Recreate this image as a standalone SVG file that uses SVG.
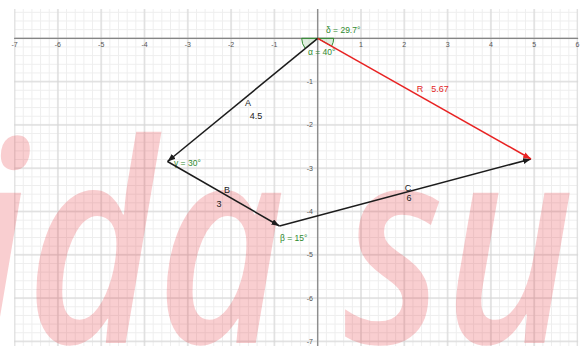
<svg xmlns="http://www.w3.org/2000/svg" width="587" height="346" viewBox="0 0 587 346">
<style>
.axl{font-family:"Liberation Sans",Arial,sans-serif;font-size:7px;fill:#555}
.lbl{font-family:"Liberation Sans",Arial,sans-serif;font-size:9px;fill:#222}
.red{fill:#e32626}
.ang{font-family:"Liberation Sans",Arial,sans-serif;font-size:8.5px;fill:#2f8a2f}
.vec{stroke:#1c1c1c;stroke-width:1.5;fill:none}
.vecr{stroke:#e82222;stroke-width:1.5;fill:none}
.sector{fill:#2e8b2e;fill-opacity:0.15;stroke:#2e8b2e;stroke-width:1}
</style>
<defs>
<pattern id="minor" x="10.27" y="33.97" width="8.66" height="8.66" patternUnits="userSpaceOnUse">
<path d="M4.33,0 V8.66 M0,4.33 H8.66" stroke="#eeeeee" stroke-width="1" fill="none"/>
</pattern>
<pattern id="major" x="-7.05" y="16.65" width="43.3" height="43.3" patternUnits="userSpaceOnUse">
<path d="M21.65,0 V43.3 M0,21.65 H43.3" stroke="#d4d4d4" stroke-width="1" fill="none"/>
</pattern>
<marker id="ab" viewBox="0 0 8 6" refX="8" refY="3" markerWidth="8" markerHeight="6" markerUnits="userSpaceOnUse" orient="auto">
<path d="M0,0 L8,3 L0,6 z" fill="#1c1c1c"/>
</marker>
<marker id="ar" viewBox="0 0 8 6" refX="8" refY="3" markerWidth="8" markerHeight="6" markerUnits="userSpaceOnUse" orient="auto">
<path d="M0,0 L8,3 L0,6 z" fill="#e82222"/>
</marker>
</defs>
<rect width="587" height="346" fill="#ffffff"/>
<g id="grid">
<rect x="14.1" y="9" width="564" height="337" fill="url(#minor)"/>
<rect x="14.1" y="9" width="564" height="337" fill="url(#major)"/>
</g>
<g id="watermark">
<text transform="translate(-35,343) scale(0.8,1)" font-family="Open Sans, sans-serif" font-style="italic" font-weight="600" font-size="278" fill="#e8323c" fill-opacity="0.24">ida su</text>
</g>
<g id="axes">
<path d="M14.1,38.3 H578.1 M317.7,9 V346" stroke="#858585" stroke-width="1.2" fill="none"/>
<g class="axl" text-anchor="middle">
<text x="14.6" y="46.5">-7</text>
<text x="57.9" y="46.5">-6</text>
<text x="101.2" y="46.5">-5</text>
<text x="144.5" y="46.5">-4</text>
<text x="187.8" y="46.5">-3</text>
<text x="231.1" y="46.5">-2</text>
<text x="274.4" y="46.5">-1</text>
<text x="361" y="46.5">1</text>
<text x="404.3" y="46.5">2</text>
<text x="447.6" y="46.5">3</text>
<text x="490.9" y="46.5">4</text>
<text x="534.2" y="46.5">5</text>
<text x="577.5" y="46.5">6</text>
</g>
<g class="axl" text-anchor="end">
<text x="313" y="84.1">-1</text>
<text x="313" y="127.4">-2</text>
<text x="313" y="170.7">-3</text>
<text x="313" y="214">-4</text>
<text x="313" y="257.3">-5</text>
<text x="313" y="300.6">-6</text>
<text x="313" y="343.9">-7</text>
</g>
</g>
<g id="angles">
<g id="angle-alpha">
<path class="sector" d="M317.7,38.3 L301.7,38.3 A16,16 0 0 0 305.3,48.45 Z"/>
<text class="ang" x="308" y="55">α = 40°</text>
</g>
<g id="angle-delta">
<path class="sector" d="M317.7,38.3 L333.7,38.3 A16,16 0 0 1 331.6,46.2 Z"/>
<text class="ang" x="326" y="33">δ = 29.7°</text>
</g>
<g id="angle-gamma">
<text class="ang" x="174" y="166">γ = 30°</text>
</g>
<g id="angle-beta">
<text class="ang" x="280" y="241">β = 15°</text>
</g>
</g>
<g id="connectors">
<g id="vector-A">
<line class="vec" x1="317.7" y1="38.3" x2="167.5" y2="161.5" marker-end="url(#ab)"/>
<text class="lbl" x="248" y="106" text-anchor="middle">A</text>
<text class="lbl" x="256" y="118.5" text-anchor="middle">4.5</text>
</g>
<g id="vector-B">
<line class="vec" x1="167.5" y1="161.5" x2="279.5" y2="226" marker-end="url(#ab)"/>
<text class="lbl" x="227" y="192.5" text-anchor="middle">B</text>
<text class="lbl" x="219" y="207" text-anchor="middle">3</text>
</g>
<g id="vector-C">
<line class="vec" x1="279.5" y1="226" x2="531" y2="159" marker-end="url(#ab)"/>
<text class="lbl" x="408" y="190.5" text-anchor="middle">C</text>
<text class="lbl" x="409" y="201" text-anchor="middle">6</text>
</g>
<g id="vector-R">
<line class="vecr" x1="317.7" y1="38.3" x2="531" y2="159" marker-end="url(#ar)"/>
<text class="lbl red" x="420" y="92" text-anchor="middle">R</text>
<text class="lbl red" x="440" y="92" text-anchor="middle">5.67</text>
</g>
</g>
</svg>
